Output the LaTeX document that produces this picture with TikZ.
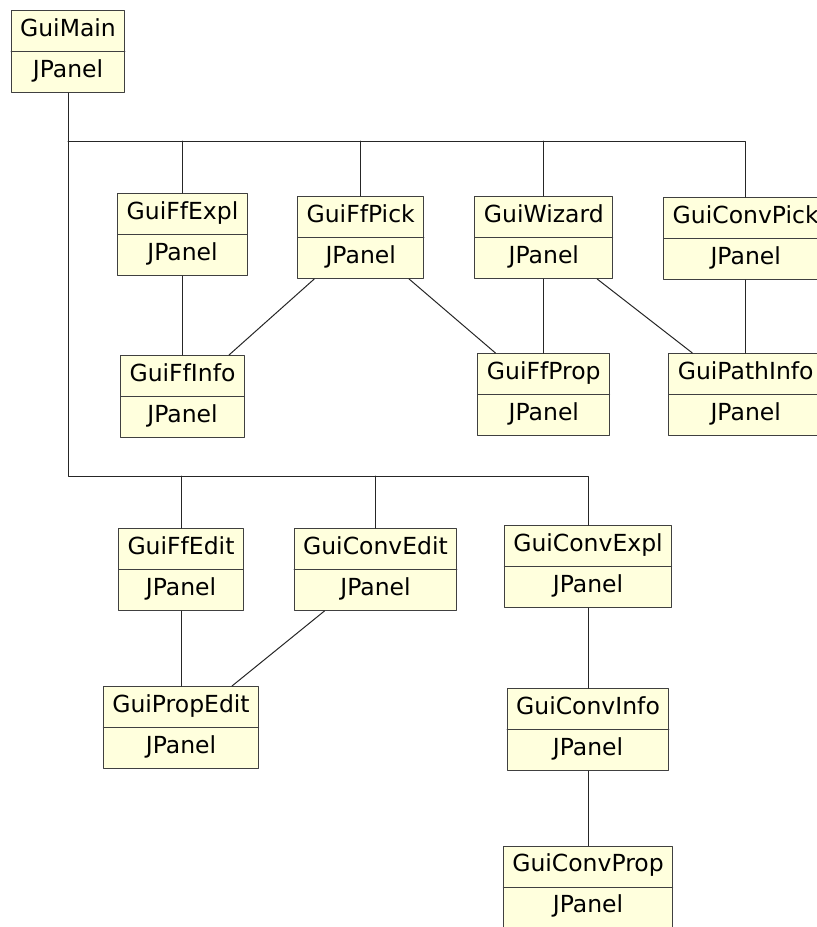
\documentclass[tikz,border=0pt]{standalone}
\usepackage{fontspec}
\setmainfont{DejaVu Sans}
\usetikzlibrary{shapes.multipart}
\definecolor{panelfill}{HTML}{FFFFDD}
\definecolor{panelline}{HTML}{404040}
\tikzset{panel/.style={rectangle split,rectangle split parts=2,draw=panelline,fill=panelfill,line width=1pt,inner xsep=9pt,inner ysep=7pt,anchor=north,font=\fontsize{23.5}{26}\selectfont},
link/.style={draw=black!85,line width=1pt}}

\begin{document}
\begin{tikzpicture}[line cap=round,line join=round,x=1pt,y=-1pt]
                \useasboundingbox (0,0) rectangle (817,927);
                \clip (0,0) rectangle (817,927);
                \node[panel] (main) at (68,10) {\strut GuiMain\nodepart{two}\strut JPanel};
                \node[panel] (ffexpl) at (182.5,193) {\strut GuiFfExpl\nodepart{two}\strut JPanel};
                \node[panel] (ffpick) at (360.7,196) {\strut GuiFfPick\nodepart{two}\strut JPanel};
                \node[panel] (wizard) at (543.8,196) {\strut GuiWizard\nodepart{two}\strut JPanel};
                \node[panel] (convpick) at (745.7,197) {\strut GuiConvPick\nodepart{two}\strut JPanel};
                \node[panel] (ffinfo) at (182.5,355) {\strut GuiFfInfo\nodepart{two}\strut JPanel};
                \node[panel] (ffprop) at (543.8,353) {\strut GuiFfProp\nodepart{two}\strut JPanel};
                \node[panel] (pathinfo) at (745.7,353) {\strut GuiPathInfo\nodepart{two}\strut JPanel};
                \node[panel] (ffedit) at (181,528) {\strut GuiFfEdit\nodepart{two}\strut JPanel};
                \node[panel] (convedit) at (375.5,528) {\strut GuiConvEdit\nodepart{two}\strut JPanel};
                \node[panel] (convexpl) at (588,525) {\strut GuiConvExpl\nodepart{two}\strut JPanel};
                \node[panel] (propedit) at (181,686) {\strut GuiPropEdit\nodepart{two}\strut JPanel};
                \node[panel] (convinfo) at (588,688) {\strut GuiConvInfo\nodepart{two}\strut JPanel};
                \node[panel] (convprop) at (588,845.5) {\strut GuiConvProp\nodepart{two}\strut JPanel};
                \coordinate (topbus) at (68,141);
                \coordinate (lowbus) at (68,476);
                \draw [link] (main.south) -- (lowbus) -| (convexpl.north);
                \draw [link] (topbus) -| (convpick.north);
                \draw [link] (ffexpl.north |- topbus) -- (ffexpl.north);
                \draw [link] (ffpick.north |- topbus) -- (ffpick.north);
                \draw [link] (wizard.north |- topbus) -- (wizard.north);
                \draw [link] (ffedit.north |- lowbus) -- (ffedit.north);
                \draw [link] (convedit.north |- lowbus) -- (convedit.north);
                \draw [link] (ffexpl) -- (ffinfo);
                \draw [link] (ffpick) -- (ffinfo);
                \draw [link] (ffpick) -- (ffprop);
                \draw [link] (wizard) -- (ffprop);
                \draw [link] (wizard) -- (pathinfo);
                \draw [link] (convpick) -- (pathinfo);
                \draw [link] (ffedit) -- (propedit);
                \draw [link] (convedit) -- (propedit);
                \draw [link] (convexpl) -- (convinfo);
                \draw [link] (convinfo) -- (convprop);
\end{tikzpicture}
\end{document}
